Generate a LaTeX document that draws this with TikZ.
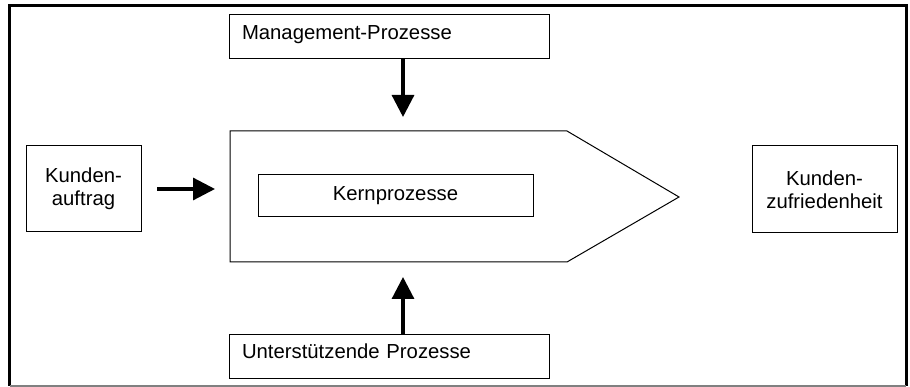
\documentclass[tikz,border=0pt]{standalone}
\usepackage{fontspec}
\setmainfont{Liberation Sans}
\usetikzlibrary{arrows.meta}
\begin{document}
\begin{tikzpicture}[x=1pt,y=-1pt,
  every node/.style={font=\fontsize{20.3}{23.5}\selectfont},
  box/.style={draw,line width=1pt,inner sep=0pt,align=center},
  lbox/.style={draw,line width=1pt,inner xsep=13pt,inner ysep=0pt,align=left,
     text height=14.5pt,text depth=10pt},
  bigarrow/.style={line width=3.2pt,-{Triangle[width=22pt,length=22pt]}},
  frame/.style={line width=3pt}]
\useasboundingbox (0,0) rectangle (910,387);
% frame
\draw[frame] (9.5,386) -- (9.5,5.5) -- (906,5.5) -- (906,386);
\draw[gray,line width=1.5pt] (9.5,386) -- (906,386);
% nodes
\node[lbox,text width=294pt,minimum height=44pt] (mgmt) at (389,37) {Management-Prozesse};
\node[lbox,text width=294pt,minimum height=44pt] (supp) at (389,356) {Unterstützende Prozesse};
\node[box,minimum width=115pt,minimum height=86pt] (auftrag) at (83.5,189) {Kunden-\\auftrag};
\node[box,minimum width=145pt,minimum height=87pt] (zufr) at (824.5,189.5) {Kunden-\\zufriedenheit};
% core pentagon
\draw[line width=1pt] (230,131) -- (567,131) -- (679,197) -- (567,262) -- (230,262) -- cycle;
\node[box,minimum width=275pt,minimum height=42pt] (kern) at (395.5,196) {Kernprozesse};
% arrows
\coordinate (dstart) at (403,59);
\coordinate (dtip) at (403,117);
\coordinate (ustart) at (403,334);
\coordinate (utip) at (403,277);
\coordinate (lstart) at (157,189);
\coordinate (ltip) at (215,189);
\draw[bigarrow] (mgmt.south -| dstart) -- (dtip);
\draw[bigarrow] (supp.north -| ustart) -- (utip);
\draw[bigarrow] (lstart) -- (ltip);
\end{tikzpicture}
\end{document}
